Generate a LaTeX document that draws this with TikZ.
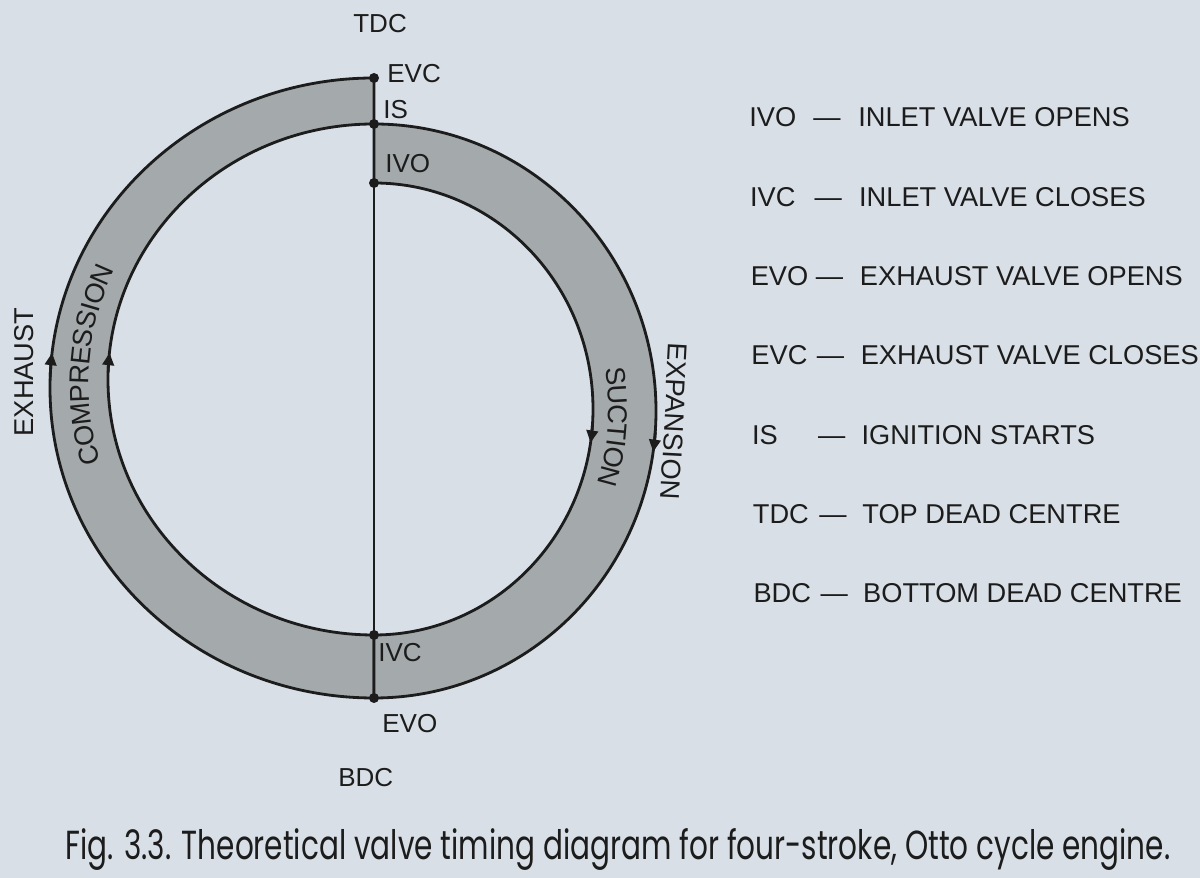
\documentclass[tikz,border=0pt]{standalone}
\usepackage{fontspec}
\usepackage{graphicx}
\usetikzlibrary{arrows.meta,decorations.text}

\newfontfamily\legendfont{Liberation Sans}
\newfontfamily\captionfont{Poppins}

\definecolor{paper}{HTML}{D8DFE7}
\definecolor{band}{HTML}{A4A9AB}
\definecolor{ink}{HTML}{1C1C1C}

\tikzset{
  bandfill/.style={draw=ink, fill=band, line width=1.6pt, line join=round},
  crank/.style={draw=ink, line width=1pt},
  dot/.style={fill=ink},
  flowtip/.style={draw=ink, line width=1.6pt, -{Triangle[length=7pt,width=6.5pt]}},
  tag/.style={inner sep=0pt, anchor=base west, text=ink, font=\legendfont\fontsize{14.8}{18}\selectfont},
  word/.style={inner sep=0pt, text=ink, font=\legendfont\fontsize{15.5}{18}\selectfont},
  legend/.style={inner sep=0pt, anchor=base west, text=ink, font=\legendfont\fontsize{15.5}{18}\selectfont},
}

\begin{document}
\begin{tikzpicture}[x=0.02cm, y=0.02cm]
  \fill[paper] (0,0) rectangle (1200,878);
  \useasboundingbox (0,0) rectangle (1200,878);

  % valve events on the dead-centre line
  \coordinate (EVC) at (374,800);
  \coordinate (IS)  at (374,754);
  \coordinate (IVO) at (374,695);
  \coordinate (IVC) at (374,243);
  \coordinate (EVO) at (374,180);

  % centres of the arcs
  \coordinate (lo) at (374,490);
  \coordinate (li) at (374,497.5);
  \coordinate (lm) at (374,494);
  \coordinate (ro) at (374,466.5);
  \coordinate (ri) at (374,469);
  \coordinate (rm) at (374,468);

  % left band: compression / exhaust
  \draw[bandfill] (EVC) arc[start angle=90, end angle=270, x radius=324, y radius=310]
    -- (IVC) arc[start angle=270, end angle=90, x radius=266, y radius=255.5] -- cycle;
  % right band: suction / expansion
  \draw[bandfill] (IS) arc[start angle=90, end angle=-90, x radius=282, y radius=287]
    -- (IVC) arc[start angle=-90, end angle=90, x radius=219, y radius=226] -- cycle;

  \draw[crank] (EVC) -- (EVO);
  \foreach \p in {EVC,IS,IVO,IVC,EVO}
    \fill[dot] (\p) circle (5);

  % direction of rotation
  \draw[flowtip] ([shift={(178:324 and 310)}]lo) arc[start angle=178, end angle=173.5, x radius=324, y radius=310];
  \draw[flowtip] ([shift={(178:266 and 255.5)}]li) arc[start angle=178, end angle=173.8, x radius=266, y radius=255.5];
  \draw[flowtip] ([shift={(-4:282 and 287)}]ro) arc[start angle=-4, end angle=-8.1, x radius=282, y radius=287];
  \draw[flowtip] ([shift={(-4:219 and 226)}]ri) arc[start angle=-4, end angle=-8.6, x radius=219, y radius=226];

  % stroke names
  \path[decorate, decoration={text along path, text align=center, raise=-5.5pt, text color=ink,
      text={|\legendfont\fontsize{15.5}{18}\selectfont|COMPRESSION}}]
    ([shift={(212:295 and 283)}]lm) arc[start angle=212, end angle=140, x radius=295, y radius=283];
  \path[decorate, decoration={text along path, text align=center, raise=-9pt, text color=ink,
      text={|\legendfont\fontsize{15.5}{18}\selectfont|SUCTION}}]
    ([shift={(26:250.5 and 256.5)}]rm) arc[start angle=26, end angle=-34, x radius=250.5, y radius=256.5];
  \node[word, rotate=90] (exhaust) at (24,506) {EXHAUST};
  \node[word, rotate=-93] (expansion) at (674,457) {EXPANSION};

  % event labels
  \node[tag] (tdc) at (353,845) {TDC};
  \node[tag] (evc) at (387,795) {EVC};
  \node[tag] (is)  at (383,759) {IS};
  \node[tag] (ivo) at (385,705) {IVO};
  \node[tag] (ivc) at (378,216) {IVC};
  \node[tag] (evo) at (382,145) {EVO};
  \node[tag] (bdc) at (338,91)  {BDC};

  % key
  \foreach \abbr/\desc [count=\i from 0] in {IVO/INLET VALVE OPENS, IVC/INLET VALVE CLOSES,
      EVO/EXHAUST VALVE OPENS, EVC/EXHAUST VALVE CLOSES, IS/IGNITION STARTS,
      TDC/TOP DEAD CENTRE, BDC/BOTTOM DEAD CENTRE}
  {
    \node[legend] (key\i)  at ({749+0.7*\i}, {751-79.3*\i}) {\abbr};
    \node[legend] (dash\i) at ({813+1.2*\i}, {751-79.3*\i}) {—};
    \node[legend] (text\i) at ({858+0.8*\i}, {751-79.3*\i}) {\desc};
  }

  \node[inner sep=0pt, anchor=base west, text=ink] (caption) at (65,18)
    {\resizebox{22.1cm}{0.62cm}{\captionfont Fig. 3.3. Theoretical valve timing diagram for four-stroke, Otto cycle engine.}};
\end{tikzpicture}
\end{document}
